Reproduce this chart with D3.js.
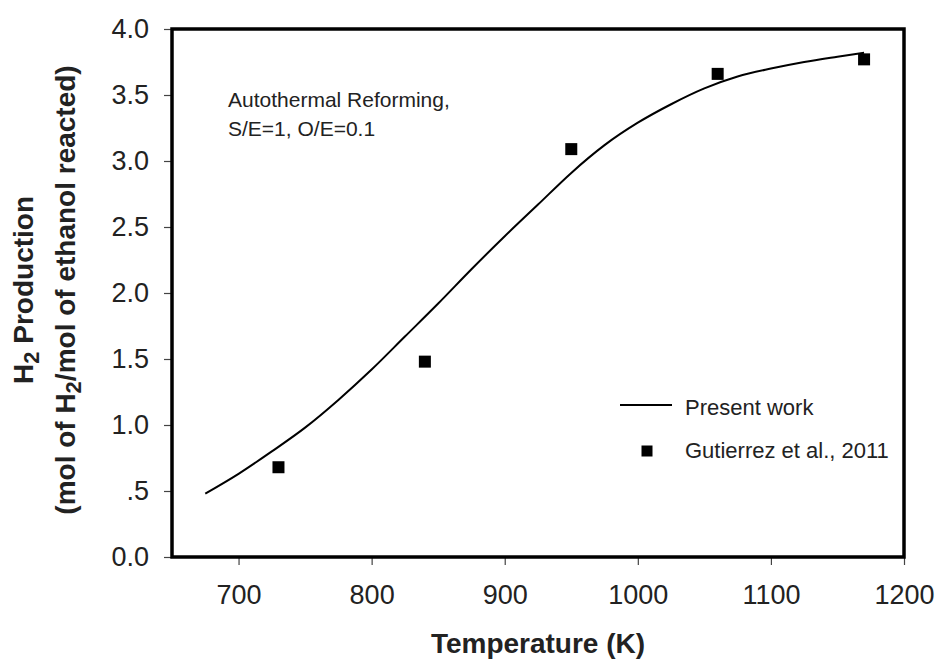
<!DOCTYPE html>
<html>
<head>
<meta charset="utf-8">
<script src="https://cdn.jsdelivr.net/npm/d3@7"></script>
<style>
  html, body { margin: 0; padding: 0; background: #fff; }
  svg { display: block; }
  text { font-family: "Liberation Sans", Arial, Helvetica, sans-serif; }
</style>
</head>
<body>
<svg id="chart" width="940" height="663"></svg>
<script>
// ---- data ----
const modelTemps = [675, 700, 725, 750, 775, 800, 825, 850, 875, 900, 925, 950, 975, 1000, 1025, 1050, 1075, 1100, 1125, 1150, 1170];
const modelH2    = [0.48, 0.63, 0.80, 0.98, 1.19, 1.42, 1.67, 1.92, 2.18, 2.43, 2.67, 2.91, 3.12, 3.29, 3.43, 3.55, 3.64, 3.70, 3.75, 3.79, 3.82];
const expTemps   = [730, 840, 950, 1060, 1170];
const expH2      = [0.68, 1.48, 3.09, 3.66, 3.77];
const xTickValues = [700, 800, 900, 1000, 1100, 1200];
const yTickValues = [0, 0.5, 1.0, 1.5, 2.0, 2.5, 3.0, 3.5, 4.0];
const yTickLabels = ["0.0", ".5", "1.0", "1.5", "2.0", "2.5", "3.0", "3.5", "4.0"];
const legendLabels = ["Present work", "Gutierrez et al., 2011"];
const annotationLines = ["Autothermal Reforming,", "S/E=1, O/E=0.1"];

// ---- layout ----
const svg = d3.select("#chart");
const mLeft = 172, mRight = 904, mTop = 29, mBottom = 557;
const x = d3.scaleLinear().domain([650, 1200]).range([mLeft, mRight]);
const y = d3.scaleLinear().domain([0, 4]).range([mBottom, mTop]);
const textColor = "#222";

// axes
const xAxis = d3.axisBottom(x).tickValues(xTickValues).tickSize(8).tickPadding(20).tickFormat(d3.format("d"));
const gx = svg.append("g").attr("transform", `translate(0,${mBottom})`).call(xAxis);
gx.select(".domain").remove();
gx.selectAll(".tick line").attr("stroke", "#444").attr("stroke-width", 1.2);
gx.selectAll(".tick text").attr("fill", textColor).style("font-size", "27px");

const yAxis = d3.axisLeft(y).tickValues(yTickValues).tickSize(8).tickPadding(15)
  .tickFormat((d, i) => yTickLabels[i]);
const gy = svg.append("g").attr("transform", `translate(${mLeft},0)`).call(yAxis);
gy.select(".domain").remove();
gy.selectAll(".tick line").attr("stroke", "#444").attr("stroke-width", 1.2);
gy.selectAll(".tick text").attr("fill", textColor).style("font-size", "27px");

// model line
const line = d3.line().x((d, i) => x(modelTemps[i])).y(d => y(d)).curve(d3.curveMonotoneX);
svg.append("path").datum(modelH2).attr("d", line)
  .attr("fill", "none").attr("stroke", "#000").attr("stroke-width", 2);

// experimental points
const ms = 12;
svg.append("g").selectAll("rect").data(expH2).join("rect")
  .attr("x", (d, i) => x(expTemps[i]) - ms / 2)
  .attr("y", d => y(d) - ms / 2)
  .attr("width", ms).attr("height", ms).attr("fill", "#000");

// frame
svg.append("rect").attr("x", mLeft).attr("y", mTop)
  .attr("width", mRight - mLeft).attr("height", mBottom - mTop)
  .attr("fill", "none").attr("stroke", "#000").attr("stroke-width", 3.5);

// annotation
const ann = svg.append("text").attr("fill", textColor).style("font-size", "21px");
annotationLines.forEach((t, i) => {
  ann.append("tspan").attr("x", 228).attr("y", 107 + i * 29).text(t);
});

// legend
svg.append("line").attr("x1", 620).attr("x2", 672).attr("y1", 405).attr("y2", 405)
  .attr("stroke", "#000").attr("stroke-width", 2);
svg.append("text").attr("x", 685).attr("y", 415).attr("fill", textColor)
  .style("font-size", "22px").text(legendLabels[0]);
svg.append("rect").attr("x", 647 - 5.5).attr("y", 451 - 5.5).attr("width", 11).attr("height", 11).attr("fill", "#000");
svg.append("text").attr("x", 685).attr("y", 458).attr("fill", textColor)
  .style("font-size", "22px").text(legendLabels[1]);

// x label
svg.append("text").attr("x", 538).attr("y", 653).attr("text-anchor", "middle")
  .attr("fill", textColor).style("font-size", "28px").style("font-weight", "bold")
  .text("Temperature (K)");

// y label (two lines)
const cy = 290;
const yl1 = svg.append("text").attr("transform", `translate(33,${cy}) rotate(-90)`)
  .attr("text-anchor", "middle").attr("fill", textColor)
  .style("font-size", "28px").style("font-weight", "bold");
yl1.append("tspan").text("H");
yl1.append("tspan").attr("dy", 6).style("font-size", "22px").text("2");
yl1.append("tspan").attr("dy", -6).text(" Production");

const yl2 = svg.append("text").attr("transform", `translate(75,${cy}) rotate(-90)`)
  .attr("text-anchor", "middle").attr("fill", textColor)
  .style("font-size", "28px").style("font-weight", "bold");
yl2.append("tspan").text("(mol of H");
yl2.append("tspan").attr("dy", 6).style("font-size", "22px").text("2");
yl2.append("tspan").attr("dy", -6).text("/mol of ethanol reacted)");
</script>
</body>
</html>
